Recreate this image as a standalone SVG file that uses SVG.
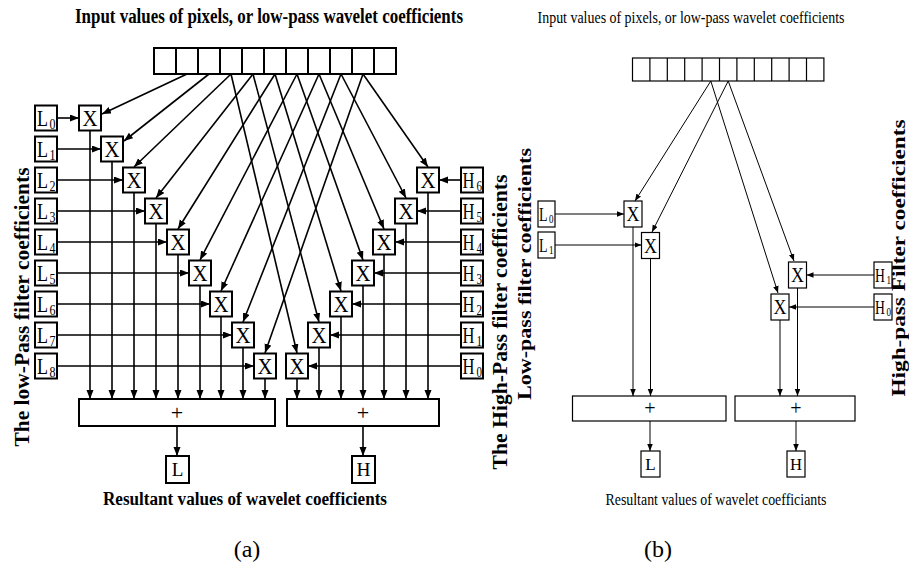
<svg xmlns="http://www.w3.org/2000/svg" width="909" height="568" viewBox="0 0 909 568">
<style>
.bx{fill:#fff;stroke:#000;stroke-width:2}
.bxb{fill:#fff;stroke:#000;stroke-width:1.2}
.ln{fill:none;stroke:#000;stroke-width:1.6}
.lnb{fill:none;stroke:#000;stroke-width:1}
.s{font-family:"Liberation Serif","Times New Roman",serif;fill:#000}
.sb{font-family:"Liberation Serif","Times New Roman",serif;font-weight:bold;fill:#000}
.x{font-size:24px;text-anchor:middle}
.xb{font-size:21px;text-anchor:middle}
.lab{font-size:23px}
.labb{font-size:19px}
.sub{font-size:14px}
.subb{font-size:12px}
</style>
<defs>
<marker id="ah" markerUnits="userSpaceOnUse" markerWidth="10" markerHeight="8" refX="9" refY="3.5" orient="auto"><path d="M0,0 L9,3.5 L0,7 z" fill="#000"/></marker>
<marker id="ahb" markerUnits="userSpaceOnUse" markerWidth="8" markerHeight="6" refX="7" refY="2.75" orient="auto"><path d="M0,0 L7,2.75 L0,5.5 z" fill="#000"/></marker>
</defs>

<!-- Titles -->
<text class="sb" x="269" y="23" font-size="20" text-anchor="middle" textLength="388" lengthAdjust="spacingAndGlyphs">Input values of pixels, or low-pass wavelet coefficients</text>
<text class="s" transform="translate(691,23) scale(0.82,1)" x="0" y="0" font-size="17" text-anchor="middle">Input values of pixels, or low-pass wavelet coefficients</text>
<text class="sb" x="245" y="505" font-size="18" text-anchor="middle" textLength="284" lengthAdjust="spacingAndGlyphs">Resultant values of wavelet coefficients</text>
<text class="s" x="716" y="505" font-size="16" text-anchor="middle" textLength="221" lengthAdjust="spacingAndGlyphs">Resultant values of wavelet coefficiants</text>
<text class="s" x="247" y="557" font-size="24" text-anchor="middle">(a)</text>
<text class="s" x="658" y="557" font-size="24" text-anchor="middle">(b)</text>
<text class="sb" transform="translate(29,307) rotate(-90)" font-size="22" text-anchor="middle" textLength="279" lengthAdjust="spacingAndGlyphs">The low-Pass filter coefficients</text>
<text class="sb" transform="translate(507,322) rotate(-90)" font-size="22" text-anchor="middle" textLength="295" lengthAdjust="spacingAndGlyphs">The High-Pass filter coefficients</text>
<text class="sb" transform="translate(531,274) rotate(-90)" font-size="18" text-anchor="middle" textLength="252" lengthAdjust="spacingAndGlyphs">Low-pass filter coefficients</text>
<text class="sb" transform="translate(905,258) rotate(-90)" font-size="18" text-anchor="middle" textLength="277" lengthAdjust="spacingAndGlyphs">High-pass Filter coefficients</text>

<!-- Connectors (a) -->
<g id="connectors-a" class="ln">
<path d="M187,74 L102,114" marker-end="url(#ah)"/>
<path d="M209,74 L124,141" marker-end="url(#ah)"/>
<path d="M231,74 L134,167" marker-end="url(#ah)"/>
<path d="M253,74 L156,198" marker-end="url(#ah)"/>
<path d="M275,74 L178,229" marker-end="url(#ah)"/>
<path d="M297,74 L200,260" marker-end="url(#ah)"/>
<path d="M319,74 L221,291" marker-end="url(#ah)"/>
<path d="M341,74 L243,322" marker-end="url(#ah)"/>
<path d="M363,74 L265,353" marker-end="url(#ah)"/>
<path d="M231,74 L297,353" marker-end="url(#ah)"/>
<path d="M253,74 L319,322" marker-end="url(#ah)"/>
<path d="M275,74 L341,291" marker-end="url(#ah)"/>
<path d="M297,74 L363,260" marker-end="url(#ah)"/>
<path d="M319,74 L384,229" marker-end="url(#ah)"/>
<path d="M341,74 L406,198" marker-end="url(#ah)"/>
<path d="M363,74 L428,167" marker-end="url(#ah)"/>
<path d="M57,118 L79,118" marker-end="url(#ah)"/>
<path d="M57,149 L101,149" marker-end="url(#ah)"/>
<path d="M57,180 L123,180" marker-end="url(#ah)"/>
<path d="M57,211 L145,211" marker-end="url(#ah)"/>
<path d="M57,242 L167,242" marker-end="url(#ah)"/>
<path d="M57,273 L189,273" marker-end="url(#ah)"/>
<path d="M57,304 L210,304" marker-end="url(#ah)"/>
<path d="M57,335 L232,335" marker-end="url(#ah)"/>
<path d="M57,366 L254,366" marker-end="url(#ah)"/>
<path d="M461,366 L308,366" marker-end="url(#ah)"/>
<path d="M461,335 L330,335" marker-end="url(#ah)"/>
<path d="M461,304 L352,304" marker-end="url(#ah)"/>
<path d="M461,273 L374,273" marker-end="url(#ah)"/>
<path d="M461,242 L395,242" marker-end="url(#ah)"/>
<path d="M461,211 L417,211" marker-end="url(#ah)"/>
<path d="M461,180 L439,180" marker-end="url(#ah)"/>
<path d="M90,130.5 L90,399" marker-end="url(#ah)"/>
<path d="M112,161.5 L112,399" marker-end="url(#ah)"/>
<path d="M134,192.5 L134,399" marker-end="url(#ah)"/>
<path d="M156,223.5 L156,399" marker-end="url(#ah)"/>
<path d="M178,254.5 L178,399" marker-end="url(#ah)"/>
<path d="M200,285.5 L200,399" marker-end="url(#ah)"/>
<path d="M221,316.5 L221,399" marker-end="url(#ah)"/>
<path d="M243,347.5 L243,399" marker-end="url(#ah)"/>
<path d="M265,378.5 L265,399" marker-end="url(#ah)"/>
<path d="M297,378.5 L297,399" marker-end="url(#ah)"/>
<path d="M319,347.5 L319,399" marker-end="url(#ah)"/>
<path d="M341,316.5 L341,399" marker-end="url(#ah)"/>
<path d="M363,285.5 L363,399" marker-end="url(#ah)"/>
<path d="M384,254.5 L384,399" marker-end="url(#ah)"/>
<path d="M406,223.5 L406,399" marker-end="url(#ah)"/>
<path d="M428,192.5 L428,399" marker-end="url(#ah)"/>
<path d="M177,426 L177,456" marker-end="url(#ah)"/>
<path d="M363,426 L363,456" marker-end="url(#ah)"/>
</g>

<!-- Connectors (b) -->
<g id="connectors-b" class="lnb">
<path d="M710.8,81 L635,201" marker-end="url(#ahb)"/>
<path d="M728.2,81 L652,232" marker-end="url(#ahb)"/>
<path d="M710.8,81 L778,293" marker-end="url(#ahb)"/>
<path d="M728.2,81 L794,261" marker-end="url(#ahb)"/>
<path d="M555,214 L624,214" marker-end="url(#ahb)"/>
<path d="M555,245 L641.5,245" marker-end="url(#ahb)"/>
<path d="M874,275 L806.5,275" marker-end="url(#ahb)"/>
<path d="M874,307 L789,307" marker-end="url(#ahb)"/>
<path d="M633,227 L633,396" marker-end="url(#ahb)"/>
<path d="M650.5,258.5 L650.5,396" marker-end="url(#ahb)"/>
<path d="M780,320 L780,396" marker-end="url(#ahb)"/>
<path d="M797.5,288 L797.5,396" marker-end="url(#ahb)"/>
<path d="M650,421 L650,451" marker-end="url(#ahb)"/>
<path d="M796,421 L796,451" marker-end="url(#ahb)"/>
</g>

<!-- (a) input array -->
<g id="array-a" class="bx">
<rect x="154" y="48" width="242" height="26"/>
<path d="M176,48V74M198,48V74M220,48V74M242,48V74M264,48V74M286,48V74M308,48V74M330,48V74M352,48V74M374,48V74"/>
</g>

<!-- (a) L coefficient boxes -->
<g id="L0"><rect class="bx" x="35" y="105.5" width="22" height="25"/><text class="s lab" x="37" y="126" textLength="11" lengthAdjust="spacingAndGlyphs">L</text><text class="s sub" x="49.5" y="129" textLength="6" lengthAdjust="spacingAndGlyphs">0</text></g>
<g id="L1"><rect class="bx" x="35" y="136.5" width="22" height="25"/><text class="s lab" x="37" y="157" textLength="11" lengthAdjust="spacingAndGlyphs">L</text><text class="s sub" x="49.5" y="160" textLength="6" lengthAdjust="spacingAndGlyphs">1</text></g>
<g id="L2"><rect class="bx" x="35" y="167.5" width="22" height="25"/><text class="s lab" x="37" y="188" textLength="11" lengthAdjust="spacingAndGlyphs">L</text><text class="s sub" x="49.5" y="191" textLength="6" lengthAdjust="spacingAndGlyphs">2</text></g>
<g id="L3"><rect class="bx" x="35" y="198.5" width="22" height="25"/><text class="s lab" x="37" y="219" textLength="11" lengthAdjust="spacingAndGlyphs">L</text><text class="s sub" x="49.5" y="222" textLength="6" lengthAdjust="spacingAndGlyphs">3</text></g>
<g id="L4"><rect class="bx" x="35" y="229.5" width="22" height="25"/><text class="s lab" x="37" y="250" textLength="11" lengthAdjust="spacingAndGlyphs">L</text><text class="s sub" x="49.5" y="253" textLength="6" lengthAdjust="spacingAndGlyphs">4</text></g>
<g id="L5"><rect class="bx" x="35" y="260.5" width="22" height="25"/><text class="s lab" x="37" y="281" textLength="11" lengthAdjust="spacingAndGlyphs">L</text><text class="s sub" x="49.5" y="284" textLength="6" lengthAdjust="spacingAndGlyphs">5</text></g>
<g id="L6"><rect class="bx" x="35" y="291.5" width="22" height="25"/><text class="s lab" x="37" y="312" textLength="11" lengthAdjust="spacingAndGlyphs">L</text><text class="s sub" x="49.5" y="315" textLength="6" lengthAdjust="spacingAndGlyphs">6</text></g>
<g id="L7"><rect class="bx" x="35" y="322.5" width="22" height="25"/><text class="s lab" x="37" y="343" textLength="11" lengthAdjust="spacingAndGlyphs">L</text><text class="s sub" x="49.5" y="346" textLength="6" lengthAdjust="spacingAndGlyphs">7</text></g>
<g id="L8"><rect class="bx" x="35" y="353.5" width="22" height="25"/><text class="s lab" x="37" y="374" textLength="11" lengthAdjust="spacingAndGlyphs">L</text><text class="s sub" x="49.5" y="377" textLength="6" lengthAdjust="spacingAndGlyphs">8</text></g>

<!-- (a) H coefficient boxes -->
<g id="H6"><rect class="bx" x="461" y="167.5" width="22" height="25"/><text class="s lab" transform="translate(462.5,188) scale(0.72,1)">H</text><text class="s sub" x="476.5" y="191" textLength="5.5" lengthAdjust="spacingAndGlyphs">6</text></g>
<g id="H5"><rect class="bx" x="461" y="198.5" width="22" height="25"/><text class="s lab" transform="translate(462.5,219) scale(0.72,1)">H</text><text class="s sub" x="476.5" y="222" textLength="5.5" lengthAdjust="spacingAndGlyphs">5</text></g>
<g id="H4"><rect class="bx" x="461" y="229.5" width="22" height="25"/><text class="s lab" transform="translate(462.5,250) scale(0.72,1)">H</text><text class="s sub" x="476.5" y="253" textLength="5.5" lengthAdjust="spacingAndGlyphs">4</text></g>
<g id="H3"><rect class="bx" x="461" y="260.5" width="22" height="25"/><text class="s lab" transform="translate(462.5,281) scale(0.72,1)">H</text><text class="s sub" x="476.5" y="284" textLength="5.5" lengthAdjust="spacingAndGlyphs">3</text></g>
<g id="H2"><rect class="bx" x="461" y="291.5" width="22" height="25"/><text class="s lab" transform="translate(462.5,312) scale(0.72,1)">H</text><text class="s sub" x="476.5" y="315" textLength="5.5" lengthAdjust="spacingAndGlyphs">2</text></g>
<g id="H1"><rect class="bx" x="461" y="322.5" width="22" height="25"/><text class="s lab" transform="translate(462.5,343) scale(0.72,1)">H</text><text class="s sub" x="476.5" y="346" textLength="5.5" lengthAdjust="spacingAndGlyphs">1</text></g>
<g id="H0"><rect class="bx" x="461" y="353.5" width="22" height="25"/><text class="s lab" transform="translate(462.5,374) scale(0.72,1)">H</text><text class="s sub" x="476.5" y="377" textLength="5.5" lengthAdjust="spacingAndGlyphs">0</text></g>

<!-- (a) L multipliers -->
<g id="XL0"><rect class="bx" x="79" y="105.5" width="22" height="25"/><text class="s x" x="90" y="126" textLength="15" lengthAdjust="spacingAndGlyphs">X</text></g>
<g id="XL1"><rect class="bx" x="101" y="136.5" width="22" height="25"/><text class="s x" x="112" y="157" textLength="15" lengthAdjust="spacingAndGlyphs">X</text></g>
<g id="XL2"><rect class="bx" x="123" y="167.5" width="22" height="25"/><text class="s x" x="134" y="188" textLength="15" lengthAdjust="spacingAndGlyphs">X</text></g>
<g id="XL3"><rect class="bx" x="145" y="198.5" width="22" height="25"/><text class="s x" x="156" y="219" textLength="15" lengthAdjust="spacingAndGlyphs">X</text></g>
<g id="XL4"><rect class="bx" x="167" y="229.5" width="22" height="25"/><text class="s x" x="178" y="250" textLength="15" lengthAdjust="spacingAndGlyphs">X</text></g>
<g id="XL5"><rect class="bx" x="189" y="260.5" width="22" height="25"/><text class="s x" x="200" y="281" textLength="15" lengthAdjust="spacingAndGlyphs">X</text></g>
<g id="XL6"><rect class="bx" x="210" y="291.5" width="22" height="25"/><text class="s x" x="221" y="312" textLength="15" lengthAdjust="spacingAndGlyphs">X</text></g>
<g id="XL7"><rect class="bx" x="232" y="322.5" width="22" height="25"/><text class="s x" x="243" y="343" textLength="15" lengthAdjust="spacingAndGlyphs">X</text></g>
<g id="XL8"><rect class="bx" x="254" y="353.5" width="22" height="25"/><text class="s x" x="265" y="374" textLength="15" lengthAdjust="spacingAndGlyphs">X</text></g>

<!-- (a) H multipliers -->
<g id="XH0"><rect class="bx" x="286" y="353.5" width="22" height="25"/><text class="s x" x="297" y="374" textLength="15" lengthAdjust="spacingAndGlyphs">X</text></g>
<g id="XH1"><rect class="bx" x="308" y="322.5" width="22" height="25"/><text class="s x" x="319" y="343" textLength="15" lengthAdjust="spacingAndGlyphs">X</text></g>
<g id="XH2"><rect class="bx" x="330" y="291.5" width="22" height="25"/><text class="s x" x="341" y="312" textLength="15" lengthAdjust="spacingAndGlyphs">X</text></g>
<g id="XH3"><rect class="bx" x="352" y="260.5" width="22" height="25"/><text class="s x" x="363" y="281" textLength="15" lengthAdjust="spacingAndGlyphs">X</text></g>
<g id="XH4"><rect class="bx" x="373" y="229.5" width="22" height="25"/><text class="s x" x="384" y="250" textLength="15" lengthAdjust="spacingAndGlyphs">X</text></g>
<g id="XH5"><rect class="bx" x="395" y="198.5" width="22" height="25"/><text class="s x" x="406" y="219" textLength="15" lengthAdjust="spacingAndGlyphs">X</text></g>
<g id="XH6"><rect class="bx" x="417" y="167.5" width="22" height="25"/><text class="s x" x="428" y="188" textLength="15" lengthAdjust="spacingAndGlyphs">X</text></g>

<!-- (a) adders and outputs -->
<g id="sumL-a"><rect class="bx" x="79" y="399" width="196" height="27"/><text class="s" x="177" y="420" font-size="22" text-anchor="middle">+</text></g>
<g id="sumH-a"><rect class="bx" x="287" y="399" width="152" height="27"/><text class="s" x="363" y="420" font-size="22" text-anchor="middle">+</text></g>
<g id="outL-a"><rect class="bx" x="166" y="456" width="23" height="27"/><text class="s" x="177.5" y="476" font-size="19" text-anchor="middle">L</text></g>
<g id="outH-a"><rect class="bx" x="352" y="456" width="23" height="27"/><text class="s" x="363.5" y="476" font-size="19" text-anchor="middle" textLength="14" lengthAdjust="spacingAndGlyphs">H</text></g>

<!-- (b) input array -->
<g id="array-b" class="bxb">
<rect x="632.5" y="58" width="191.4" height="23"/>
<path d="M649.9,58V81M667.3,58V81M684.7,58V81M702.1,58V81M719.5,58V81M736.9,58V81M754.3,58V81M771.7,58V81M789.1,58V81M806.5,58V81"/>
</g>

<!-- (b) coefficient boxes -->
<g id="bL0"><rect class="bxb" x="538" y="201" width="17" height="26"/><text class="s labb" x="539" y="221" textLength="8.5" lengthAdjust="spacingAndGlyphs">L</text><text class="s subb" x="549" y="223" textLength="4.5" lengthAdjust="spacingAndGlyphs">0</text></g>
<g id="bL1"><rect class="bxb" x="538" y="232" width="17" height="26"/><text class="s labb" x="539" y="252" textLength="8.5" lengthAdjust="spacingAndGlyphs">L</text><text class="s subb" x="549" y="254" textLength="4.5" lengthAdjust="spacingAndGlyphs">1</text></g>
<g id="bH1"><rect class="bxb" x="874" y="262" width="18" height="26"/><text class="s labb" transform="translate(875,282) scale(0.72,1)">H</text><text class="s subb" x="886.5" y="284" textLength="4.5" lengthAdjust="spacingAndGlyphs">1</text></g>
<g id="bH0"><rect class="bxb" x="874" y="294" width="18" height="26"/><text class="s labb" transform="translate(875,314) scale(0.72,1)">H</text><text class="s subb" x="886.5" y="316" textLength="4.5" lengthAdjust="spacingAndGlyphs">0</text></g>

<!-- (b) multipliers -->
<g id="bXL0"><rect class="bxb" x="624" y="201" width="18" height="26"/><text class="s xb" x="633" y="221" textLength="13" lengthAdjust="spacingAndGlyphs">X</text></g>
<g id="bXL1"><rect class="bxb" x="641.5" y="232.5" width="18" height="26"/><text class="s xb" x="650.5" y="252.5" textLength="13" lengthAdjust="spacingAndGlyphs">X</text></g>
<g id="bXH1"><rect class="bxb" x="788.5" y="262" width="18" height="26"/><text class="s xb" x="797.5" y="282" textLength="13" lengthAdjust="spacingAndGlyphs">X</text></g>
<g id="bXH0"><rect class="bxb" x="771" y="294" width="18" height="26"/><text class="s xb" x="780" y="314" textLength="13" lengthAdjust="spacingAndGlyphs">X</text></g>

<!-- (b) adders and outputs -->
<g id="sumL-b"><rect class="bxb" x="572.5" y="396" width="153.5" height="25"/><text class="s" x="650" y="415" font-size="20" text-anchor="middle">+</text></g>
<g id="sumH-b"><rect class="bxb" x="735" y="396" width="120" height="25"/><text class="s" x="796" y="415" font-size="20" text-anchor="middle">+</text></g>
<g id="outL-b"><rect class="bxb" x="641" y="451" width="19" height="26"/><text class="s" x="650.5" y="470" font-size="17" text-anchor="middle">L</text></g>
<g id="outH-b"><rect class="bxb" x="787" y="451" width="18" height="26"/><text class="s" x="796" y="470" font-size="17" text-anchor="middle" textLength="12" lengthAdjust="spacingAndGlyphs">H</text></g>
</svg>
